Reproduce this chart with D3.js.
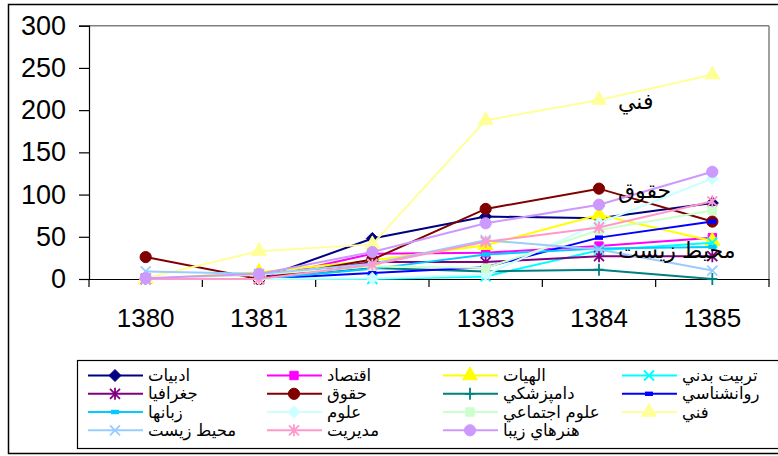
<!DOCTYPE html>
<html><head><meta charset="utf-8">
<script src="https://cdn.jsdelivr.net/npm/d3@7"></script>
<style>body{margin:0;background:#fff}svg{display:block}</style>
</head><body><svg id="c" width="778" height="456"></svg>
<script>
const years = ["1380","1381","1382","1383","1384","1385"];
const seriesNames = ["ادبيات","اقتصاد","الهيات","تربيت بدني","جغرافيا","حقوق","دامپزشكي","روانشناسي","زبانها","علوم","علوم اجتماعي","فني","محيط زيست","مديريت","هنرهاي زيبا"];
const adabiyat     = [0, 0, 48, 74, 72, 90];
const eqtesad      = [0, 0, 30, 31, 39, 49];
const elahiyat     = [0, 8, 22, 40, 76, 45];
const tarbiatBadani= [0, 0, 0, 3, 34, 43];
const joghrafia    = [0, 0, 20, 20, 27, 27];
const hoquq        = [26, 0, 23, 83, 107, 68];
const dampezeshki  = [0, 0, 13, 9, 11, 0];
const ravanshenasi = [0, 0, 7, 14, 49, 68];
const zabanha      = [0, 0, 12, 29, 36, 38];
const olum         = [0, 0, 1, 5, 66, 119];
const olumEjtemai  = [0, 5, 15, 13, 58, 81];
const fanni        = [1, 33, 41, 188, 212, 242];
const mohitZist    = [9, 6, 18, 46, 35, 10];
const modiriat     = [0, 0, 17, 44, 61, 92];
const honarha      = [1, 6, 32, 66, 88, 127];
const yTicks = [0, 50, 100, 150, 200, 250, 300];
const annotations = [["فني", 4, 212], ["حقوق", 4, 107], ["محيط زيست", 4, 35]];
const axisTitle = "ت";

const values = [adabiyat, eqtesad, elahiyat, tarbiatBadani, joghrafia, hoquq, dampezeshki, ravanshenasi, zabanha, olum, olumEjtemai, fanni, mohitZist, modiriat, honarha];
const colors = ["#000080","#FF00FF","#FFFF00","#00FFFF","#800080","#800000","#008080","#0000FF","#00CCFF","#CCFFFF","#CCFFCC","#FFFF99","#99CCFF","#FF99CC","#CC99FF"];
const markers = ["diamond","square","triangle","x","star","circle","plus","dash","dash","diamond","square","triangle","x","star","circle"];

const svg = d3.select("#c");
const FONT = "'Liberation Sans','DejaVu Sans',Arial,sans-serif";
const L = 89, R = 769, T = 25.7, B = 279;

svg.append("rect").attr("x",8.5).attr("y",4.5).attr("width",800).attr("height",449)
  .attr("fill","#fff").attr("stroke","#000").attr("stroke-width",1.5);

const x = d3.scaleBand().domain(years).range([L, R]);
const y = d3.scaleLinear().domain([0, 300]).range([B, T]);

svg.append("line").attr("x1",L).attr("x2",R).attr("y1",y(300)).attr("y2",y(300)).attr("stroke","#808080").attr("stroke-width",1.5);
svg.append("line").attr("x1",R).attr("x2",R).attr("y1",y(300)).attr("y2",B).attr("stroke","#808080").attr("stroke-width",1.5);

const yAx = svg.append("g").attr("transform",`translate(${L},0)`)
  .call(d3.axisLeft(y).tickValues(yTicks).tickSize(10).tickPadding(13));
yAx.select(".domain").attr("stroke","#000").attr("stroke-width",1.2);
yAx.selectAll("line").attr("stroke","#000").attr("stroke-width",1.2);
yAx.selectAll("text").attr("font-family",FONT).attr("font-size",27).attr("fill","#000");

const xAx = svg.append("g").attr("transform",`translate(0,${B})`)
  .call(d3.axisBottom(x).tickSize(0).tickPadding(30));
xAx.select(".domain").attr("stroke","#000").attr("stroke-width",1.2);
xAx.selectAll("text").attr("font-family",FONT).attr("font-size",26).attr("fill","#000");
const bounds = years.map(d => x(d)).concat([R]);
svg.append("g").selectAll("line").data(bounds).join("line")
  .attr("x1",d=>d).attr("x2",d=>d).attr("y1",B).attr("y2",B+8).attr("stroke","#000").attr("stroke-width",1.2);

function drawMarker(g, type, color){
  if (type === "diamond") g.append("path").attr("d","M0,-6L6,0L0,6L-6,0Z").attr("fill",color).attr("stroke",color);
  else if (type === "square") g.append("path").attr("d", d3.symbol(d3.symbolSquare, 70)()).attr("fill",color).attr("stroke",color);
  else if (type === "triangle") g.append("path").attr("d", d3.symbol(d3.symbolTriangle, 95)()).attr("fill",color).attr("stroke",color);
  else if (type === "circle") g.append("circle").attr("r",5.6).attr("fill",color).attr("stroke",color);
  else if (type === "x") g.append("path").attr("d","M-5,-5L5,5M-5,5L5,-5").attr("stroke",color).attr("stroke-width",1.8).attr("fill","none");
  else if (type === "star") g.append("path").attr("d","M-5,-5L5,5M-5,5L5,-5M0,-6L0,6").attr("stroke",color).attr("stroke-width",1.8).attr("fill","none");
  else if (type === "plus") g.append("path").attr("d","M0,-6L0,6M-5,0L5,0").attr("stroke",color).attr("stroke-width",1.8).attr("fill","none");
  else if (type === "dash") g.append("rect").attr("x",-4).attr("y",-2.2).attr("width",8).attr("height",4.4).attr("fill",color);
}

const cx = d => x(d) + x.bandwidth()/2;
const line = d3.line().x((d,i)=>cx(years[i])).y(d=>y(d));
values.forEach((vals, s) => {
  const g = svg.append("g");
  g.append("path").datum(vals).attr("d", line).attr("fill","none").attr("stroke",colors[s]).attr("stroke-width",2);
  vals.forEach((v,i) => {
    const m = g.append("g").attr("transform",`translate(${cx(years[i])},${y(v)})`);
    drawMarker(m, markers[s], colors[s]);
  });
});

annotations.forEach(([t, i, v]) => {
  svg.append("text").attr("x", cx(years[i]) + 19).attr("y", y(v) + 9)
    .attr("font-family",FONT).attr("font-size",22).attr("fill","#000").text(t);
});

svg.append("text").attr("x",422).attr("y",369).attr("text-anchor","middle")
  .attr("font-family",FONT).attr("font-size",22).attr("fill","#000").text(axisTitle);

svg.append("rect").attr("x",77.5).attr("y",360.5).attr("width",760).attr("height",88)
  .attr("fill","#fff").attr("stroke","#000").attr("stroke-width",1.2);
const colX = [88, 267, 443, 622];
const rowY = [375.5, 393.8, 412, 430.3];
seriesNames.forEach((name, s) => {
  const c = s % 4, r = Math.floor(s / 4);
  const g = svg.append("g").attr("transform",`translate(${colX[c]},${rowY[r]})`);
  g.append("line").attr("x1",0).attr("x2",55).attr("y1",0).attr("y2",0).attr("stroke",colors[s]).attr("stroke-width",2);
  const m = g.append("g").attr("transform","translate(27,0)");
  drawMarker(m, markers[s], colors[s]);
  g.append("text").attr("x",60).attr("y",5.5).attr("font-family",FONT).attr("font-size",16.5).attr("fill","#000").text(name);
});
</script></body></html>
